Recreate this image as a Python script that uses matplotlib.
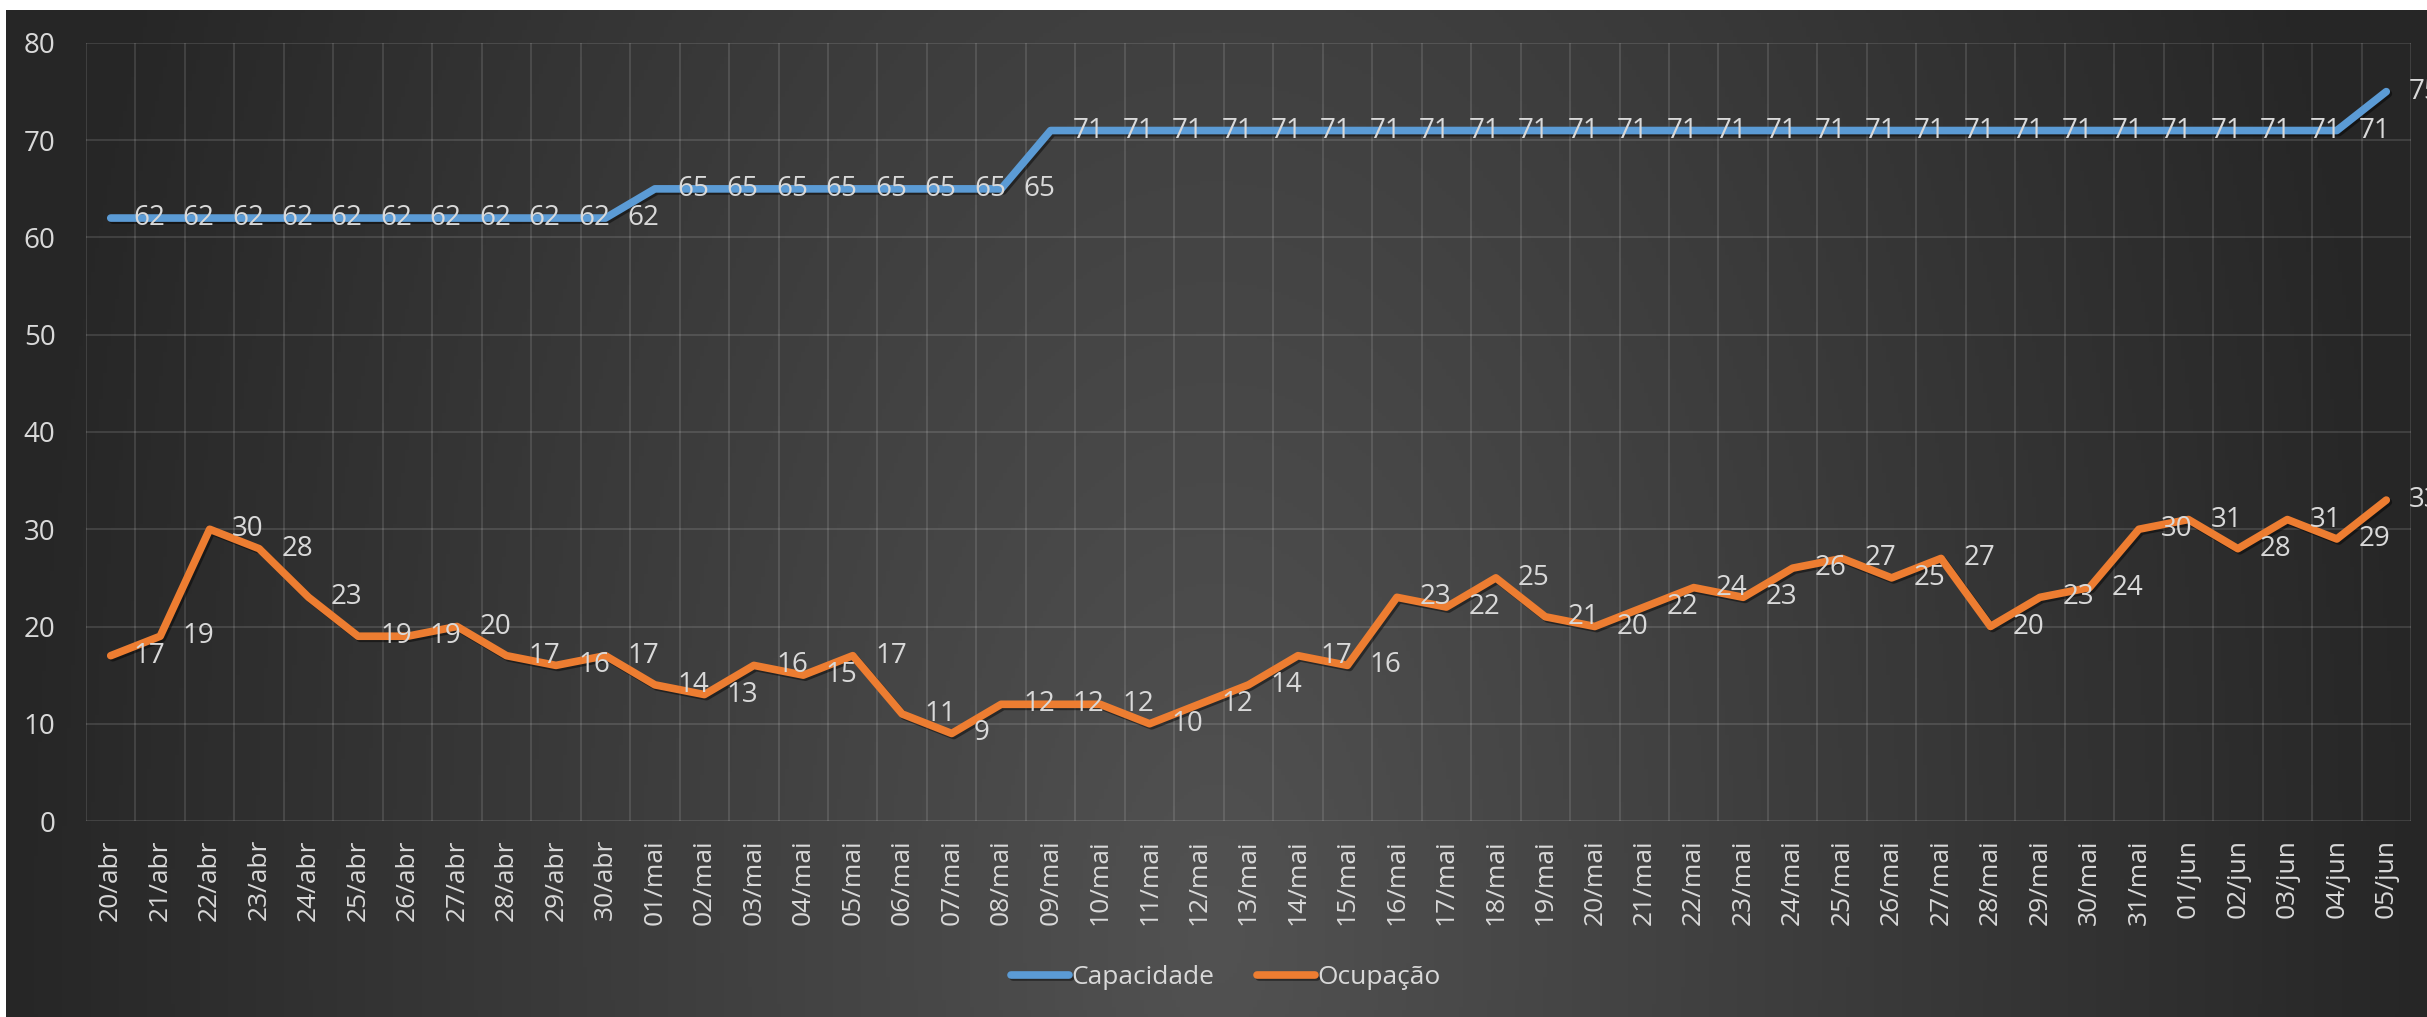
import numpy as np
import matplotlib
matplotlib.use("Agg")
import matplotlib.pyplot as plt
from matplotlib import patheffects as pe

# data
dates = ["20/abr", "21/abr", "22/abr", "23/abr", "24/abr", "25/abr", "26/abr",
         "27/abr", "28/abr", "29/abr", "30/abr",
         "01/mai", "02/mai", "03/mai", "04/mai", "05/mai", "06/mai", "07/mai",
         "08/mai", "09/mai", "10/mai", "11/mai", "12/mai", "13/mai", "14/mai",
         "15/mai", "16/mai", "17/mai", "18/mai", "19/mai", "20/mai", "21/mai",
         "22/mai", "23/mai", "24/mai", "25/mai", "26/mai", "27/mai", "28/mai",
         "29/mai", "30/mai", "31/mai",
         "01/jun", "02/jun", "03/jun", "04/jun", "05/jun"]
capacidade = [62] * 11 + [65] * 8 + [71] * 27 + [75]
ocupacao = [17, 19, 30, 28, 23, 19, 19, 20, 17, 16, 17,
            14, 13, 16, 15, 17, 11, 9, 12, 12, 12, 10, 12, 14, 17, 16,
            23, 22, 25, 21, 20, 22, 24, 23, 26, 27, 25, 27, 20, 23, 24, 30,
            31, 28, 31, 29, 33]

W, H = 2427, 1017
TXT = "#D9D9D9"
plt.rcParams["font.family"] = ["Open Sans", "DejaVu Sans"]
FS = 19
FS_LBL = 20

fig = plt.figure(figsize=(W / 100, H / 100), dpi=100, facecolor="white")

# dark radial background panel
bg = fig.add_axes([6 / W, 0, 1 - 6 / W, 1 - 10 / H])
gx, gy = np.meshgrid(np.linspace(-0.5, 0.5, 600), np.linspace(0, 1, 300))
r = np.sqrt((gx / 0.5) ** 2 + ((0.92 - gy) / 2.2) ** 2)
shade = np.clip(82 - 44 * r, 38, 255) / 255.0
img = np.dstack([shade, shade, shade])
bg.imshow(img, aspect="auto", origin="upper", extent=[0, 1, 0, 1])
bg.axis("off")

ax = fig.add_axes([86 / W, 1 - 821 / H, (2411 - 86) / W, (821 - 43) / H])
ax.set_facecolor("none")
x = np.arange(len(dates))

shadow = [pe.SimpleLineShadow(offset=(1.5, -1.5), shadow_color="black", alpha=0.45),
          pe.Normal()]
ax.plot(x, capacidade, color="#5B9BD5", lw=5.5, solid_capstyle="round",
        solid_joinstyle="round", label="Capacidade", path_effects=shadow, zorder=3)
ax.plot(x, ocupacao, color="#ED7D31", lw=5.5, solid_capstyle="round",
        solid_joinstyle="round", label="Ocupação", path_effects=shadow, zorder=3)

for xi, v in zip(x, capacidade):
    ax.annotate(str(v), (xi, v), xytext=(16, 0), textcoords="offset points",
                ha="left", va="center", color=TXT, fontsize=FS_LBL, zorder=4,
                annotation_clip=False)
for xi, v in zip(x, ocupacao):
    ax.annotate(str(v), (xi, v), xytext=(16, 0), textcoords="offset points",
                ha="left", va="center", color=TXT, fontsize=FS_LBL, zorder=4,
                annotation_clip=False)

ax.set_xlim(-0.5, len(dates) - 0.5)
ax.set_ylim(0, 80)
ax.set_yticks(range(0, 81, 10))
ax.set_xticks(x)
ax.set_xticklabels(dates, rotation=90)
ax.set_xticks(np.arange(-0.5, len(dates), 1), minor=True)
ax.tick_params(axis="both", which="both", length=0, colors=TXT, labelsize=FS)
ax.tick_params(axis="y", pad=22, labelsize=20)
ax.tick_params(axis="x", pad=13)
ax.grid(True, axis="y", which="major", color="white", alpha=0.13, lw=1.3)
ax.grid(True, axis="x", which="minor", color="white", alpha=0.13, lw=1.3)
ax.grid(False, axis="x", which="major")
for s in ax.spines.values():
    s.set_visible(False)

leg = fig.legend(loc="center", bbox_to_anchor=(0.505, 0.039), ncol=2,
                 frameon=False, fontsize=FS, labelcolor=TXT,
                 handlelength=2.2, handletextpad=0.1, columnspacing=1.6)

fig.savefig("out.png", dpi=100, facecolor="white")
